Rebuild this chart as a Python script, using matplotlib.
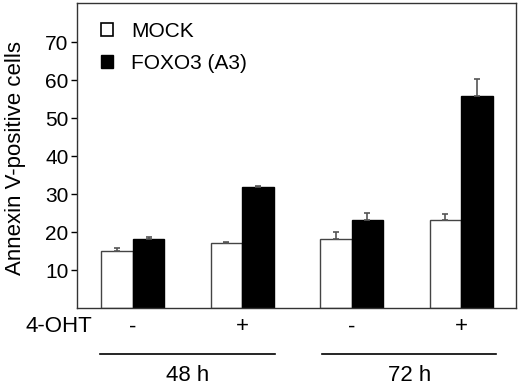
import numpy as np
import matplotlib
matplotlib.use("Agg")
import matplotlib.pyplot as plt
from matplotlib.patches import Patch

plt.rcParams['font.family'] = ['Liberation Sans', 'DejaVu Sans']

# data
treatment = ["-", "+", "-", "+"]
timepoints = ["48 h", "72 h"]
mock = [15.0, 17.1, 18.3, 23.3]
mock_err = [0.9, 0.2, 1.6, 1.5]
foxo = [18.3, 31.8, 23.2, 55.9]
foxo_err = [0.3, 0.3, 1.7, 4.5]

x = np.arange(len(treatment))
w = 0.288

fig = plt.figure(figsize=(5.2, 3.86), dpi=100)
ax = fig.add_axes([0.148, 0.202, 0.844, 0.790])

ax.bar(x - w / 2, mock, w, color="white", edgecolor="#444444", linewidth=1,
       yerr=[np.zeros(4), mock_err], ecolor="#555555", capsize=2.5,
       error_kw={"elinewidth": 1.2, "capthick": 1.2}, label="MOCK", zorder=2)
ax.bar(x + w / 2, foxo, w, color="black", edgecolor="black", linewidth=1,
       yerr=[np.zeros(4), foxo_err], ecolor="#555555", capsize=2.5,
       error_kw={"elinewidth": 1.2, "capthick": 1.2}, label="FOXO3 (A3)", zorder=2)

ax.set_xlim(-0.51, 3.50)
ax.set_ylim(0, 80.3)
ax.set_yticks([10, 20, 30, 40, 50, 60, 70])
ax.set_xticks([])
ax.tick_params(axis="y", labelsize=15, length=4, width=1, direction="out", pad=2)
for s in ax.spines.values():
    s.set_color("#333333")
    s.set_linewidth(1)
ax.set_ylabel("Annexin V-positive cells", fontsize=16, va="center")
ax.yaxis.set_label_coords(-0.141, 0.493)

# legend
handles = [Patch(facecolor="white", edgecolor="black", linewidth=1.2),
           Patch(facecolor="black", edgecolor="black")]
ax.legend(handles, ["MOCK", "FOXO3 (A3)"], loc="upper left", frameon=False,
          fontsize=15, handlelength=0.6, handleheight=0.6, handletextpad=0.85,
          labelspacing=0.6, borderaxespad=0.0, bbox_to_anchor=(0.035, 0.965))

# treatment row and time groups under the axis
trans = ax.get_xaxis_transform()
ax.text(-0.374, -0.062, "4-OHT", transform=trans, ha="right", va="center", fontsize=16)
for xi, t in zip(x, treatment):
    ax.text(xi, -0.062, t, transform=trans, ha="center", va="center", fontsize=16)
spans = [(-0.30, 1.30), (1.73, 3.32)]
for (a, b), lab in zip(spans, timepoints):
    ax.plot([a, b], [-0.151, -0.151], color="black", lw=1.2, transform=trans, clip_on=False)
    ax.text((a + b) / 2, -0.222, lab, transform=trans, ha="center", va="center", fontsize=16)

fig.savefig("out.png", dpi=100)
